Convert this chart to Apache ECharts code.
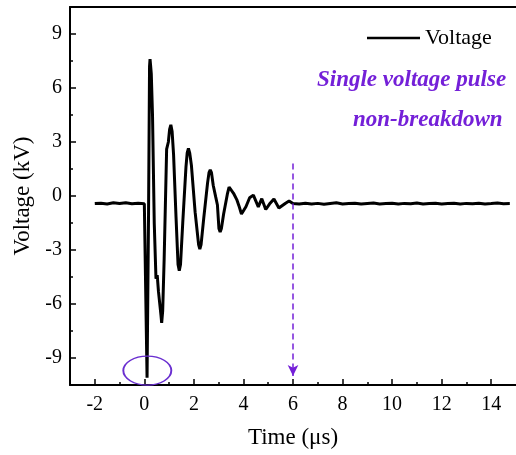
<!DOCTYPE html>
<html>
<head>
<meta charset="utf-8">
<script src="https://cdn.jsdelivr.net/npm/echarts@6/dist/echarts.min.js"></script>
<style>
  body { margin: 0; background: #fff; }
  #chart { width: 516px; height: 455px; }
</style>
</head>
<body>
<div id="chart"></div>
<script>
  const times = [
    -2, -1.75, -1.5, -1.25, -1, -0.75, -0.5, -0.25, 0, 0.07, 0.11, 0.17, 0.21, 0.23, 0.25, 0.28, 0.33, 0.4,
    0.47, 0.52, 0.57, 0.67, 0.7, 0.74, 0.8, 0.9, 0.97, 1.02, 1.07, 1.12, 1.18, 1.28, 1.36, 1.41, 1.46,
    1.55, 1.68, 1.73, 1.78, 1.83, 1.9, 2.05, 2.19, 2.24, 2.29, 2.4, 2.55, 2.61, 2.66, 2.71, 2.78, 2.88,
    2.95, 3.01, 3.06, 3.11, 3.2, 3.35, 3.42, 3.46, 3.5, 3.6, 3.73, 3.82, 3.92, 3.96, 4.0, 4.1,
    4.25, 4.4, 4.6, 4.74, 4.9, 5.05, 5.23, 5.43, 5.7, 5.84, 6,
    6.25, 6.5, 6.75, 7, 7.25, 7.5, 7.75, 8, 8.25, 8.5, 8.75, 9, 9.25, 9.5, 9.75, 10,
    10.25, 10.5, 10.75, 11, 11.25, 11.5, 11.75, 12, 12.25, 12.5, 12.75, 13, 13.25, 13.5,
    13.75, 14, 14.25, 14.5, 14.75, 15
  ]
  const voltage = [
    -0.42, -0.4, -0.44, -0.38, -0.42, -0.37, -0.43, -0.4, -0.43, -0.5, -10.1, -1, 7.2, 7.6, 7.3, 6.8, 4.5, -1.5,
    -4.6, -4.4, -5.3, -6.6, -7.05, -6.4, -3.5, 2.6, 3.0, 3.7, 3.95, 3.6, 2.3, -1.2, -3.8, -4.15, -3.8,
    -1.5, 1.6, 2.4, 2.65, 2.4, 1.7, -0.9, -2.7, -2.95, -2.7, -1.2, 0.7, 1.3, 1.45, 1.3, 0.6, -0.05,
    -0.5, -1.8, -2.0, -1.8, -1.0, 0.1, 0.5, 0.6, 0.5, 0.15, -0.2, -0.55, -1.0, -1.1, -1.0, -0.6,
    -0.1, 0.05, -0.6, -0.15, -0.75, -0.45, -0.17, -0.67, -0.4, -0.28, -0.42,
    -0.45, -0.4, -0.44, -0.41, -0.46, -0.42, -0.38, -0.44, -0.42, -0.4, -0.45, -0.42, -0.39, -0.44, -0.42,
    -0.4, -0.45, -0.41, -0.43, -0.39, -0.44, -0.42, -0.4, -0.45, -0.42, -0.4, -0.44, -0.41, -0.43,
    -0.4, -0.44, -0.42, -0.39, -0.43, -0.42
  ]

  const xTicks = [-2, 0, 2, 4, 6, 8, 10, 12, 14]
  const xMinorTicks = [-1, 1, 3, 5, 7, 9, 11, 13]
  const yTicks = [-9, -6, -3, 0, 3, 6, 9]
  const yMinorTicks = [-7.5, -4.5, -1.5, 1.5, 4.5, 7.5]

  // annotations: end of oscillation arrow, circled negative peak
  const arrowFrom = [6, 1.8]
  const arrowTo = [6, -10]
  const circleAt = [0.12, -9.7]

  const purple = '#7420d8'
  const serif = "'Liberation Serif', 'Times New Roman', serif"

  const myChart = echarts.init(document.getElementById('chart'))

  const option = {
    animation: false,
    textStyle: { fontFamily: serif },
    grid: { left: 70, right: 0, top: 7, bottom: 70 },
    legend: {
      data: [{ name: 'Voltage', icon: 'rect' }],
      left: 362,
      top: 22,
      itemWidth: 53,
      itemHeight: 2.6,
      textStyle: { fontFamily: serif, fontSize: 22, color: '#000' },
    },
    graphic: [
      {
        type: 'text',
        left: 317,
        top: 69,
        style: { text: 'Single voltage pulse', font: 'italic bold 23px ' + serif, fill: purple },
      },
      {
        type: 'text',
        left: 353,
        top: 109,
        style: { text: 'non-breakdown', font: 'italic bold 23px ' + serif, fill: purple },
      },
    ],
    xAxis: [
      {
        type: 'value',
        min: -3,
        max: 15,
        position: 'bottom',
        name: 'Time (μs)',
        nameLocation: 'middle',
        nameGap: 41,
        nameTextStyle: { fontSize: 23, color: '#000', fontFamily: serif },
        axisLine: { show: true, onZero: false, lineStyle: { color: '#000', width: 2 } },
        axisTick: { show: true, inside: true, length: 6, customValues: xTicks, lineStyle: { color: '#000', width: 1.5 } },
        axisLabel: { customValues: xTicks, fontSize: 20, color: '#000', margin: 10, fontFamily: serif },
        splitLine: { show: false },
      },
      {
        type: 'value',
        min: -3,
        max: 15,
        position: 'bottom',
        axisLine: { show: false, onZero: false },
        axisTick: { show: true, inside: true, length: 3, customValues: xMinorTicks, lineStyle: { color: '#000', width: 1.5 } },
        axisLabel: { show: false },
        splitLine: { show: false },
      },
      {
        type: 'value',
        min: -3,
        max: 15,
        position: 'top',
        axisLine: { show: true, onZero: false, lineStyle: { color: '#000', width: 2 } },
        axisTick: { show: false },
        axisLabel: { show: false },
        splitLine: { show: false },
      },
    ],
    yAxis: [
      {
        type: 'value',
        min: -10.5,
        max: 10.5,
        name: 'Voltage (kV)',
        nameLocation: 'middle',
        nameGap: 36,
        nameTextStyle: { fontSize: 23, color: '#000', fontFamily: serif },
        axisLine: { show: true, onZero: false, lineStyle: { color: '#000', width: 2 } },
        axisTick: { show: true, inside: true, length: 6, customValues: yTicks, lineStyle: { color: '#000', width: 1.5 } },
        axisLabel: { customValues: yTicks, fontSize: 20, color: '#000', margin: 8, fontFamily: serif },
        splitLine: { show: false },
      },
      {
        type: 'value',
        min: -10.5,
        max: 10.5,
        position: 'left',
        axisLine: { show: false, onZero: false },
        axisTick: { show: true, inside: true, length: 3, customValues: yMinorTicks, lineStyle: { color: '#000', width: 1.5 } },
        axisLabel: { show: false },
        splitLine: { show: false },
      },
    ],
    series: [
      {
        name: 'Voltage',
        type: 'line',
        xAxisIndex: 0,
        yAxisIndex: 0,
        showSymbol: false,
        symbol: 'none',
        smooth: false,
        lineStyle: { color: '#000', width: 3 },
        itemStyle: { color: '#000' },
        data: times.map((t, i) => [t, voltage[i]]),
        markLine: {
          silent: true,
          symbol: ['none', 'arrow'],
          symbolSize: [8, 11],
          label: { show: false },
          lineStyle: { color: purple, type: [6, 4], width: 1.5 },
          data: [[{ coord: arrowFrom }, { coord: arrowTo }]],
        },
        markPoint: {
          silent: true,
          symbol: 'circle',
          symbolSize: [48, 29],
          label: { show: false },
          itemStyle: { color: 'transparent', borderColor: '#6a2fd0', borderWidth: 1.5 },
          data: [{ coord: circleAt }],
        },
      },
    ],
  }

  option && myChart.setOption(option)
</script>
</body>
</html>
